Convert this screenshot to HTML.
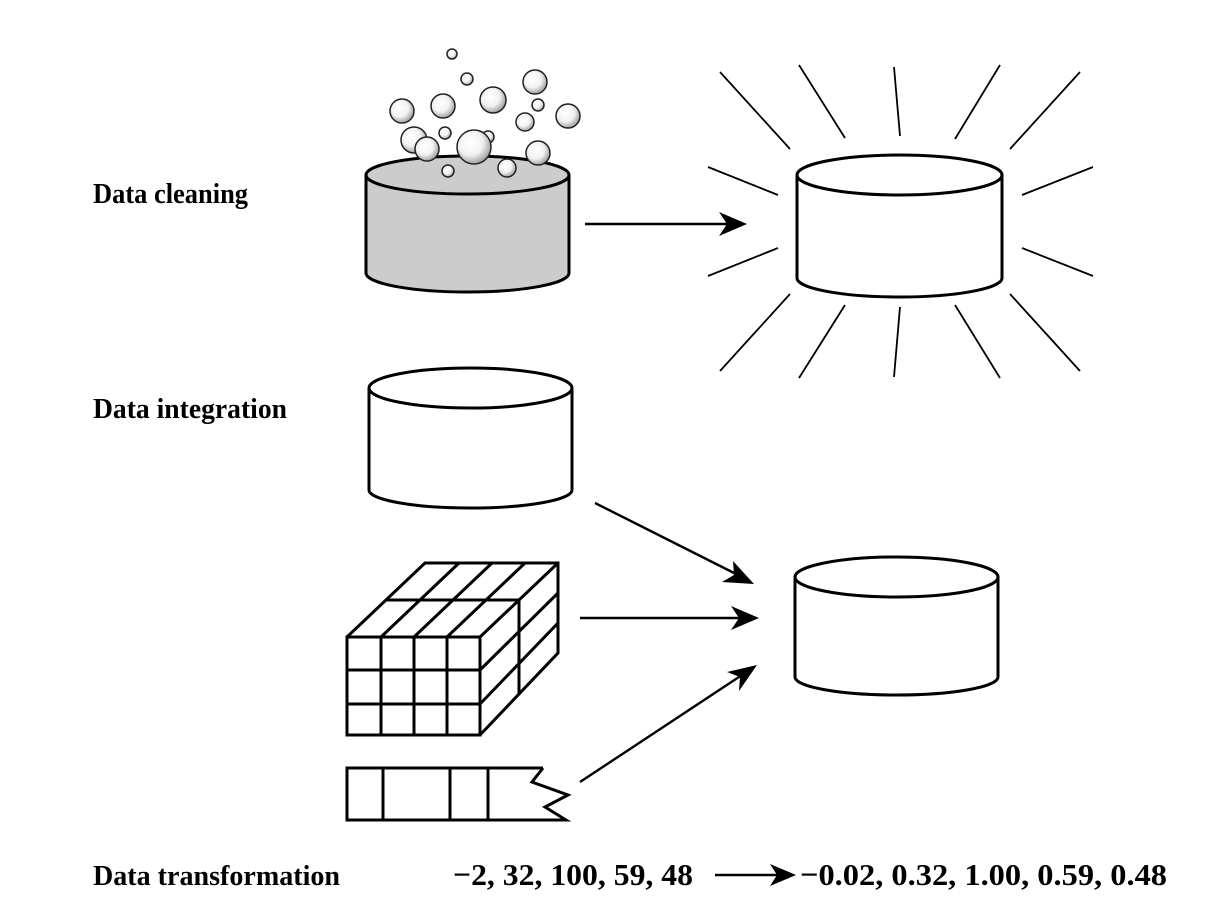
<!DOCTYPE html>
<html><head><meta charset="utf-8"><style>html,body{margin:0;padding:0;background:#fff}svg{display:block}</style></head>
<body>
<svg width="1228" height="920" viewBox="0 0 1228 920" xmlns="http://www.w3.org/2000/svg">
<defs>
<radialGradient id="b" cx="0.4" cy="0.38" r="0.65"><stop offset="0" stop-color="#fff"/><stop offset="0.55" stop-color="#f2f2f2"/><stop offset="1" stop-color="#9a9a9a"/></radialGradient>
</defs>
<g font-family="'Liberation Serif',serif" font-weight="bold" font-size="28" fill="#000">
<text x="93" y="203" textLength="155" lengthAdjust="spacingAndGlyphs">Data cleaning</text>
<text x="93" y="418" textLength="194" lengthAdjust="spacingAndGlyphs">Data integration</text>
<text x="93" y="885" textLength="247" lengthAdjust="spacingAndGlyphs">Data transformation</text>
<text x="453" y="885" font-size="31" textLength="240" lengthAdjust="spacingAndGlyphs">−2, 32, 100, 59, 48</text>
<text x="800" y="885" font-size="31" textLength="367" lengthAdjust="spacingAndGlyphs">−0.02, 0.32, 1.00, 0.59, 0.48</text>
</g>
<g fill="none" stroke="#000" stroke-width="3">
<path d="M366,175 L366,273 A101.5,19 0 0 0 569,273 L569,175" fill="#cccccc"/>
<ellipse cx="467.5" cy="175" rx="101.5" ry="19" fill="#cccccc"/>
<path d="M797,175 L797,278 A102.5,19 0 0 0 1002,278 L1002,175" fill="#fff"/>
<ellipse cx="899.5" cy="175" rx="102.5" ry="20" fill="#fff"/>
<path d="M369,388 L369,490 A101.5,18 0 0 0 572,490 L572,388" fill="#fff"/>
<ellipse cx="470.5" cy="388" rx="101.5" ry="20" fill="#fff"/>
<path d="M795,577 L795,677 A101.5,18 0 0 0 998,677 L998,577" fill="#fff"/>
<ellipse cx="896.5" cy="577" rx="101.5" ry="20" fill="#fff"/>
</g>
<g fill="url(#b)" stroke="#222" stroke-width="1.5">
<circle cx="452" cy="54" r="5"/><circle cx="467" cy="79" r="6"/><circle cx="535" cy="82" r="12"/>
<circle cx="493" cy="100" r="13"/><circle cx="538" cy="105" r="6"/><circle cx="402" cy="111" r="12"/>
<circle cx="443" cy="106" r="12"/><circle cx="568" cy="116" r="12"/><circle cx="525" cy="122" r="9"/>
<circle cx="414" cy="140" r="13"/><circle cx="445" cy="133" r="6"/><circle cx="488" cy="137" r="6"/>
<circle cx="427" cy="149" r="12"/><circle cx="474" cy="147" r="17"/><circle cx="538" cy="153" r="12"/>
<circle cx="448" cy="171" r="6"/><circle cx="507" cy="168" r="9"/>
</g>
<g stroke="#000" stroke-width="1.8">
<line x1="720" y1="72" x2="790" y2="149"/><line x1="799" y1="65" x2="845" y2="138"/>
<line x1="894" y1="67" x2="900" y2="136"/><line x1="1000" y1="65" x2="955" y2="139"/>
<line x1="1080" y1="72" x2="1010" y2="149"/><line x1="708" y1="167" x2="778" y2="195"/>
<line x1="1093" y1="167" x2="1022" y2="195"/><line x1="708" y1="276" x2="778" y2="248"/>
<line x1="1093" y1="276" x2="1022" y2="248"/><line x1="720" y1="371" x2="790" y2="294"/>
<line x1="799" y1="378" x2="845" y2="305"/><line x1="894" y1="377" x2="900" y2="307"/>
<line x1="1000" y1="378" x2="955" y2="305"/><line x1="1080" y1="371" x2="1010" y2="294"/>
</g>
<g stroke="#000" stroke-width="2.4" fill="none">
<line x1="585" y1="224" x2="735" y2="224"/>
<line x1="595" y1="503" x2="742" y2="577"/>
<line x1="580" y1="618" x2="745" y2="618"/>
<line x1="580" y1="782" x2="745" y2="673"/>
<line x1="715" y1="875" x2="783" y2="875"/>
</g>
<g fill="#000">
<path d="M747,224 L719,212 L727,224 L719,236z"/>
<path d="M754,584 L733,561 L734,575 L722,582z"/>
<path d="M759,618 L731,606 L739,618 L731,630z"/>
<path d="M757,665 L727,672 L740,677 L739,691z"/>
<path d="M796,875 L770,864 L777,875 L770,886z"/>
</g>
<g stroke="#000" stroke-width="3" fill="none">
<rect x="347" y="637" width="133" height="98" fill="#fff"/>
<line x1="381" y1="637" x2="381" y2="735"/><line x1="414" y1="637" x2="414" y2="735"/><line x1="447" y1="637" x2="447" y2="735"/>
<line x1="347" y1="670" x2="480" y2="670"/><line x1="347" y1="704" x2="480" y2="704"/>
<path d="M347,637 L425,563 L558,563 L558,653 L480,735"/>
<line x1="480" y1="637" x2="558" y2="563"/>
<line x1="381" y1="637" x2="459" y2="563"/><line x1="414" y1="637" x2="492" y2="563"/><line x1="447" y1="637" x2="525" y2="563"/>
<line x1="386" y1="600" x2="519" y2="600"/><line x1="519" y1="600" x2="519" y2="695"/>
<line x1="480" y1="670" x2="558" y2="593"/><line x1="480" y1="704" x2="558" y2="623"/>
</g>
<g stroke="#000" stroke-width="3" fill="none">
<path d="M543,768 L347,768 L347,820 L566,820 L545,807 L568,795 L532,782 L543,768" fill="#fff"/>
<line x1="383" y1="768" x2="383" y2="820"/><line x1="450" y1="768" x2="450" y2="820"/><line x1="488" y1="768" x2="488" y2="820"/>
</g>
</svg>
</body></html>
